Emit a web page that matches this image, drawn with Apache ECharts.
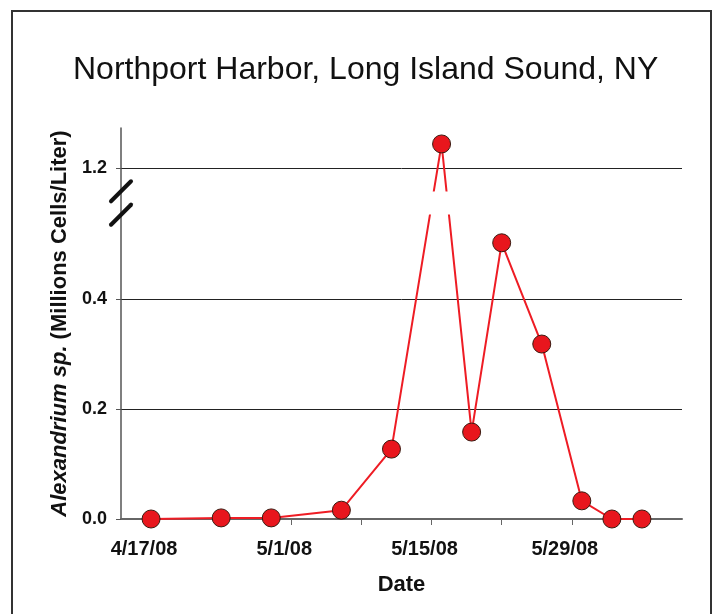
<!DOCTYPE html>
<html>
<head>
<meta charset="utf-8">
<script src="https://cdn.jsdelivr.net/npm/echarts@6/dist/echarts.min.js"></script>
<style>
html, body { margin: 0; padding: 0; background: #fff; }
#chart { width: 715px; height: 614px; }
</style>
</head>
<body>
<div id="chart"></div>
<script>
// 采样日期与藻细胞密度（百万个/升）
var sampleDates = ['2008-04-17', '2008-04-24', '2008-04-29', '2008-05-06', '2008-05-11', '2008-05-16',
                   '2008-05-19', '2008-05-22', '2008-05-26', '2008-05-30', '2008-06-02', '2008-06-05']
var cellCounts = [0, 0.002, 0.002, 0.016, 0.127, 1.244, 0.158, 0.502, 0.318, 0.033, 0, 0]

// 坐标轴刻度
var tickDates = ['2008-04-17', '2008-04-24', '2008-05-01', '2008-05-08', '2008-05-15',
                 '2008-05-22', '2008-05-29', '2008-06-05']
var labelDates = ['2008-04-17', '2008-05-01', '2008-05-15', '2008-05-29']
var yTicks = [0, 0.2, 0.4, 1.2]
var axisBreak = { start: 0.553, end: 1.158 }  // 纵轴断开区间

// 横轴用距 4/17 的天数
var DAY = 86400000
var base = toTime('2008-04-17')
function toTime(s) {
  var p = s.split('-')
  return Date.UTC(+p[0], +p[1] - 1, +p[2])
}
function toDay(s) {
  return Math.round((toTime(s) - base) / DAY)
}
function fmtDay(v) {
  var d = new Date(base + Math.round(v) * DAY)
  return (d.getUTCMonth() + 1) + '/' + d.getUTCDate() + '/' + String(d.getUTCFullYear()).slice(2)
}

var chart = echarts.init(document.getElementById('chart'))
var font = 'Liberation Sans, Arial, sans-serif'

var option = {
  animation: false,
  backgroundColor: '#fff',
  title: {
    text: 'Northport Harbor, Long Island Sound, NY',
    left: 68,
    top: 49,
    textStyle: { fontFamily: font, fontSize: 32, fontWeight: 'normal', color: '#111' }
  },
  grid: { left: 121, right: 33, top: 128, bottom: 95, containLabel: false },
  xAxis: {
    type: 'value',
    min: toDay('2008-04-14'),
    max: toDay('2008-06-09'),
    name: 'Date',
    nameLocation: 'middle',
    nameGap: 55,
    nameTextStyle: { fontFamily: font, fontSize: 22, fontWeight: 'bold', color: '#111' },
    axisLine: { onZero: false, lineStyle: { color: '#666', width: 2 } },
    axisTick: { show: true, length: 6, lineStyle: { color: '#666' }, customValues: tickDates.map(toDay) },
    axisLabel: {
      customValues: labelDates.map(toDay),
      formatter: fmtDay,
      margin: 20,
      padding: [0, 14, 0, 0],
      fontFamily: font, fontSize: 20, fontWeight: 'bold', color: '#111'
    },
    splitLine: { show: false }
  },
  yAxis: {
    type: 'value',
    min: 0,
    max: 1.273,
    breaks: [{ start: axisBreak.start, end: axisBreak.end, gap: '6%' }],
    breakArea: {
      show: true,
      itemStyle: { color: '#fff', borderColor: '#fff', borderWidth: 0, opacity: 1 },
      zigzagAmplitude: 0,
      zigzagZ: 100,
      expandOnClick: false
    },
    name: '{i|Alexandrium sp.} (Millions Cells/Liter)',
    nameLocation: 'middle',
    nameRotate: 90,
    nameGap: 46,
    nameTextStyle: {
      fontFamily: font, fontSize: 22, fontWeight: 'bold', color: '#111',
      rich: { i: { fontFamily: font, fontSize: 22, fontWeight: 'bold', fontStyle: 'italic', color: '#111' } }
    },
    axisLine: { show: true, onZero: false, lineStyle: { color: '#555', width: 1.5 } },
    axisTick: { show: true, length: 5, lineStyle: { color: '#555' }, customValues: yTicks },
    axisLabel: {
      customValues: yTicks,
      formatter: function (v) { return v.toFixed(1) },
      margin: 14,
      fontFamily: font, fontSize: 18, fontWeight: 'bold', color: '#111'
    },
    splitLine: { show: true, lineStyle: { color: '#222', width: 1 } }
  },
  series: [
    {
      type: 'line',
      data: sampleDates.map(function (d, i) { return [toDay(d), cellCounts[i]] }),
      symbol: 'circle',
      symbolSize: 18,
      lineStyle: { color: '#ee1c24', width: 2 },
      itemStyle: { color: '#e8161d', borderColor: '#3a1a10', borderWidth: 1 },
      z: 3
    }
  ]
}

chart.setOption(option)

// 外框、断开处的轴线和断开标记
var yLow = chart.convertToPixel({ yAxisIndex: 0 }, axisBreak.start)
var yHigh = chart.convertToPixel({ yAxisIndex: 0 }, axisBreak.end)
var x0 = chart.convertToPixel({ xAxisIndex: 0 }, toDay('2008-04-14'))

function slash(id, cy) {
  return {
    id: id, type: 'line', z: 200,
    shape: { x1: x0 - 10, y1: cy + 10, x2: x0 + 10, y2: cy - 10 },
    style: { stroke: '#111', lineWidth: 4, lineCap: 'round' }
  }
}

chart.setOption({
  graphic: [
    {
      id: 'frame', type: 'rect', z: 200,
      shape: { x: 12, y: 11, width: 699, height: 620 },
      style: { fill: null, stroke: '#333', lineWidth: 2 }
    },
    {
      id: 'axisGap', type: 'line', z: 150,
      shape: { x1: x0, y1: yLow, x2: x0, y2: yHigh },
      style: { stroke: '#555', lineWidth: 1.5 }
    },
    slash('s1', yLow),
    slash('s2', yHigh)
  ]
})
</script>
</body>
</html>
